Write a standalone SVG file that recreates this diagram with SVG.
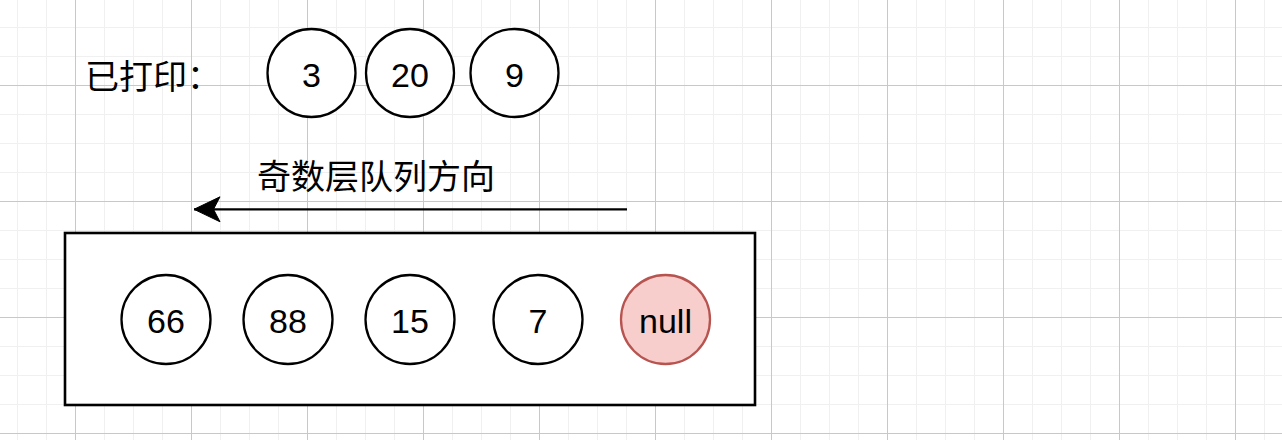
<svg xmlns="http://www.w3.org/2000/svg" width="1282" height="440" viewBox="0 0 1282 440">
  <defs>
    <pattern id="grid" patternUnits="userSpaceOnUse" x="75" y="85" width="116" height="116">
      <path d="M29.5 0V116M58.5 0V116M87.5 0V116M0 29.5H116M0 58.5H116M0 87.5H116" stroke="#f0f0f0" stroke-width="1" fill="none"/>
      <path d="M0.5 0V116M0 0.5H116" stroke="#c8c8c8" stroke-width="1" fill="none"/>
    </pattern>
    <marker id="arrow" markerUnits="userSpaceOnUse" markerWidth="30" markerHeight="30" refX="29" refY="15" orient="auto" viewBox="0 0 30 30">
      <path d="M29 15 L3 2.5 L9.5 15 L3 27.5 Z" fill="#000" stroke="#000" stroke-width="1"/>
    </marker>
    <style>
      .node circle { fill: #ffffff; stroke: #000000; stroke-width: 2.3; }
      .node.red circle { fill: #f8cecc; stroke: #b85450; }
      .num { font-family: "Liberation Sans", Arial, sans-serif; font-size: 34px; fill: #000; text-anchor: middle; }
      .cjk { font-family: "Liberation Sans", "Noto Sans CJK SC", sans-serif; font-size: 34px; fill: #000; }
    </style>
  </defs>
  <rect x="0" y="0" width="1282" height="440" fill="#ffffff"/>
  <rect x="0" y="0" width="1282" height="440" fill="url(#grid)"/>

  <g id="label-printed">
    <text class="cjk" x="85" y="89">已打印：</text>
  </g>

  <g id="node-3" class="node"><circle cx="311.5" cy="73" r="44"/><text class="num" x="311.5" y="86.5">3</text></g>
  <g id="node-20" class="node"><circle cx="410" cy="73" r="44"/><text class="num" x="410" y="86.5">20</text></g>
  <g id="node-9" class="node"><circle cx="514.5" cy="73" r="44"/><text class="num" x="514.5" y="86.5">9</text></g>

  <g id="label-direction">
    <text class="cjk" x="257" y="189">奇数层队列方向</text>
  </g>

  <g id="connectors">
    <line x1="627" y1="209.3" x2="194" y2="209.3" stroke="#000" stroke-width="2.3" marker-end="url(#arrow)"/>
  </g>

  <g id="queue">
    <rect x="65" y="233" width="690" height="172" fill="#ffffff" stroke="#000" stroke-width="2.6"/>
  </g>

  <g id="node-66" class="node"><circle cx="166" cy="319.5" r="44.5"/><text class="num" x="166" y="332.5">66</text></g>
  <g id="node-88" class="node"><circle cx="288" cy="319.5" r="44.5"/><text class="num" x="288" y="332.5">88</text></g>
  <g id="node-15" class="node"><circle cx="410" cy="319.5" r="44.5"/><text class="num" x="410" y="332.5">15</text></g>
  <g id="node-7" class="node"><circle cx="538" cy="319.5" r="44.5"/><text class="num" x="538" y="332.5">7</text></g>
  <g id="node-null" class="node red"><circle cx="665.5" cy="319.5" r="44.5"/><text class="num" x="665.5" y="332.5">null</text></g>
</svg>
